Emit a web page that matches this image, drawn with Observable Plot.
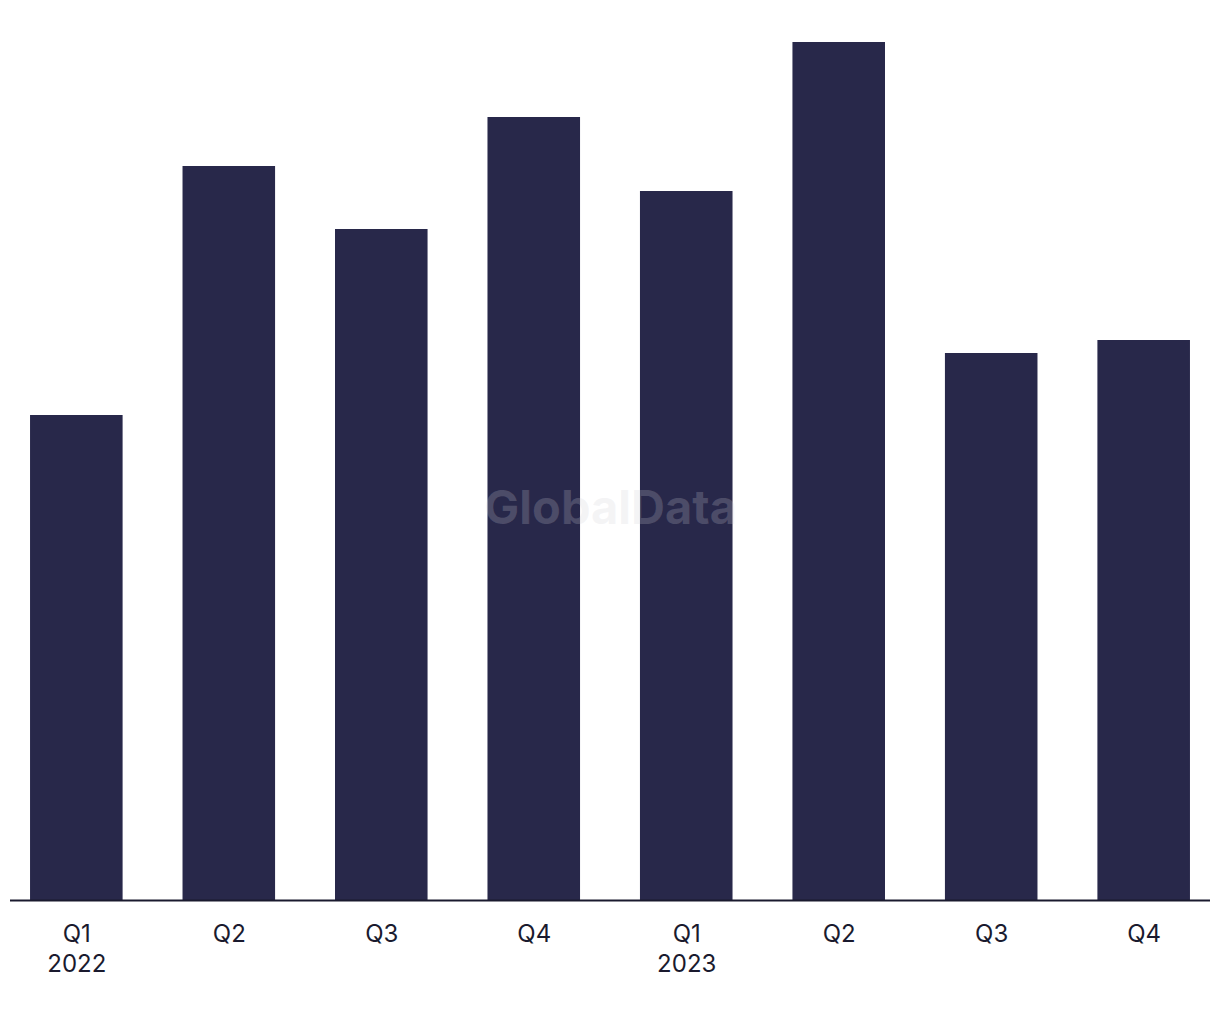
<!DOCTYPE html>
<html>
<head>
<meta charset="utf-8">
<script src="https://cdn.jsdelivr.net/npm/d3@7"></script>
<script src="https://cdn.jsdelivr.net/npm/@observablehq/plot@0.6"></script>
<style>
  html, body { margin: 0; padding: 0; background: #ffffff; }
  #chart svg { display: block; }
</style>
</head>
<body>
<div id="chart"></div>
<script>
const quarters = ["Q1 2022", "Q2 2022", "Q3 2022", "Q4 2022", "Q1 2023", "Q2 2023", "Q3 2023", "Q4 2023"];
const tickLabels = ["Q1\n2022", "Q2", "Q3", "Q4", "Q1\n2023", "Q2", "Q3", "Q4"];
const values = [48.5, 73.4, 67.1, 78.3, 70.9, 85.8, 54.7, 56.0];

const data = quarters.map((q, i) => ({quarter: q, value: values[i]}));
const labelOf = new Map(quarters.map((q, i) => [q, tickLabels[i]]));

const chart = Plot.plot({
  width: 1220,
  height: 1020,
  marginTop: 42,
  marginBottom: 120,
  marginLeft: 0,
  marginRight: 0,
  style: {fontFamily: "Inter, 'Liberation Sans', Arial, sans-serif", background: "#ffffff"},
  x: {domain: quarters, paddingInner: 0.393, paddingOuter: 0.197, round: false, label: null},
  y: {domain: [0, 85.8], axis: null},
  marks: [
    Plot.barY(data, {x: "quarter", y: "value", fill: "#28284a"}),
    Plot.ruleY([0], {stroke: "#1a1a2e", strokeWidth: 2, insetLeft: 10, insetRight: 10}),
    Plot.axisX({
      tickSize: 0,
      tickPadding: 20,
      fontSize: 24,
      lineHeight: 1.25,
      fill: "#1a1a2e",
      tickFormat: d => labelOf.get(d),
      label: null
    }),
    Plot.text(["GlobalData"], {
      frameAnchor: "middle",
      dy: 37,
      fontSize: 47,
      fontWeight: "bold",
      letterSpacing: "3.2px",
      fill: "#cdcdd5",
      fillOpacity: 0.22
    })
  ]
});
document.getElementById("chart").appendChild(chart);
</script>
</body>
</html>
